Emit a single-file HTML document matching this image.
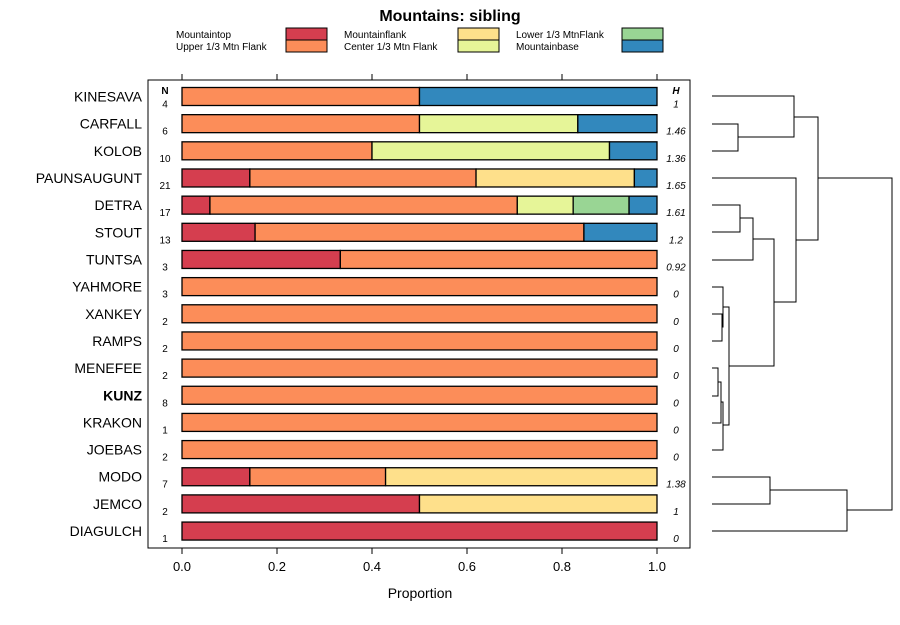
<!DOCTYPE html>
<html><head><meta charset="utf-8"><style>
body{margin:0;background:#fff;font-family:"Liberation Sans",sans-serif}
svg text{font-family:"Liberation Sans",sans-serif}
</style></head><body>
<svg width="900" height="620" viewBox="0 0 900 620">
<text x="450" y="21" text-anchor="middle" font-size="16" font-weight="bold">Mountains: sibling</text>
<g id="legend"></g>
<rect x="148" y="80" width="542" height="468" fill="none" stroke="#000" stroke-width="1"/>
<g id="bars"></g><g id="axis"></g>
<text x="420" y="598" text-anchor="middle" font-size="14">Proportion</text>
<text x="165" y="94" text-anchor="middle" font-size="10" font-weight="bold">N</text>
<text x="676" y="94" text-anchor="middle" font-size="10" font-weight="bold" font-style="italic">H</text>
<g id="dendro" fill="none" stroke="#000" stroke-width="1">
<path d="M712,124H738V151H712M712,96H794V137H738M712,205H740V232H712M712,260H753V218H740M712,341H722V314H712M712,287H723V327H722M712,368H718V396H712M712,423H721V382H718M712,450H723V402H721M723,425H729V307H723M729,366H774V239H753M712,178H796V302H774M794,117H818V240H796M712,477H770V504H712M712,531H847V490H770M818,178H892V510H847"/>
</g>
</svg>
<script>
const ns="http://www.w3.org/2000/svg";
const categories=["KINESAVA","CARFALL","KOLOB","PAUNSAUGUNT","DETRA","STOUT","TUNTSA","YAHMORE","XANKEY","RAMPS","MENEFEE","KUNZ","KRAKON","JOEBAS","MODO","JEMCO","DIAGULCH"];
const nValues=[4,6,10,21,17,13,3,3,2,2,2,8,1,2,7,2,1];
const hValues=["1","1.46","1.36","1.65","1.61","1.2","0.92","0","0","0","0","0","0","0","1.38","1","0"];
const seriesNames=["Mountaintop","Upper 1/3 Mtn Flank","Mountainflank","Center 1/3 Mtn Flank","Lower 1/3 MtnFlank","Mountainbase"];
const colors=["#D53E4F","#FC8D59","#FEE08B","#E6F598","#99D594","#3288BD"];
const mountaintop=[0,0,0,3/21,1/17,2/13,1/3,0,0,0,0,0,0,0,1/7,0.5,1];
const upperFlank=[0.5,0.5,0.4,10/21,11/17,9/13,2/3,1,1,1,1,1,1,1,2/7,0,0];
const mountainflank=[0,0,0,7/21,0,0,0,0,0,0,0,0,0,0,4/7,0.5,0];
const centerFlank=[0,1/3,0.5,0,2/17,0,0,0,0,0,0,0,0,0,0,0,0];
const lowerFlank=[0,0,0,0,2/17,0,0,0,0,0,0,0,0,0,0,0,0];
const mountainbase=[0.5,1/6,0.1,1/21,1/17,2/13,0,0,0,0,0,0,0,0,0,0,0];
const xTicks=[0,0.2,0.4,0.6,0.8,1.0];
const series=[mountaintop,upperFlank,mountainflank,centerFlank,lowerFlank,mountainbase];
const x=v=>182+v*475, y=i=>96.5+i*27.16;
function mk(t,a,p){const e=document.createElementNS(ns,t);for(const k in a)e.setAttribute(k,a[k]);p.appendChild(e);return e;}
const bars=document.getElementById('bars');
categories.forEach((c,i)=>{
 let cum=0;
 series.forEach((s,j)=>{const v=s[i];if(v<=0)return;
  const r=mk('rect',{x:x(cum),y:y(i)-9,width:x(cum+v)-x(cum),height:18,fill:colors[j],stroke:'#000','stroke-width':1.3},bars);
  
  
  cum+=v;});
 const l=mk('text',{x:142,y:y(i)+5,'text-anchor':'end','font-size':14,'font-weight':c==='KUNZ'?'bold':'normal'},bars);l.textContent=c;
 
 
 const n=mk('text',{x:165,y:y(i)+11,'text-anchor':'middle','font-size':10},bars);n.textContent=nValues[i];
 
 
 const h=mk('text',{x:676,y:y(i)+11,'text-anchor':'middle','font-size':10,'font-style':'italic'},bars);h.textContent=hValues[i];
 
 
});
const ax=document.getElementById('axis');
xTicks.forEach(t=>{
 mk('line',{x1:x(t),x2:x(t),y1:548,y2:554,stroke:'#000'},ax);
 mk('line',{x1:x(t),x2:x(t),y1:80,y2:74,stroke:'#000'},ax);
 const tx=mk('text',{x:x(t),y:571,'text-anchor':'middle','font-size':13},ax);tx.textContent=t.toFixed(1);
 
 
});
const lg=document.getElementById('legend');
const lx=[176,344,516],bx=[286,458,622];
seriesNames.forEach((s,j)=>{const col=Math.floor(j/2),row=j%2;
 const t=mk('text',{x:lx[col],y:38+row*12,'font-size':10},lg);t.textContent=s;
 
 
 const r=mk('rect',{x:bx[col],y:28+row*12,width:41,height:12,fill:colors[j],stroke:'#000'},lg);
 
 
});
</script>
</body></html>
